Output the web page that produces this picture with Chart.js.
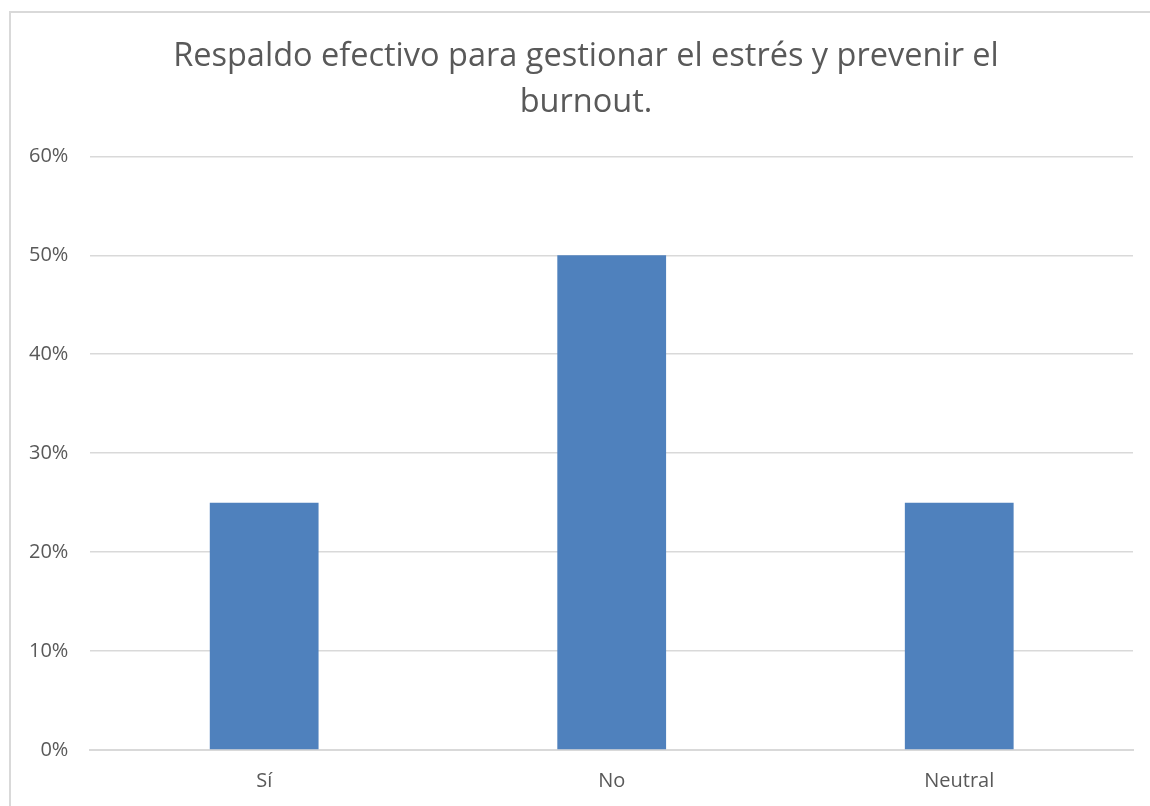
<!DOCTYPE html>
<html>
<head>
<meta charset="utf-8">
<script src="https://cdn.jsdelivr.net/npm/chart.js@4"></script>
<style>
  html, body { margin: 0; padding: 0; background: #fff; overflow: hidden; }
  #frame { position: absolute; left: 9px; top: 11px; width: 1200px; height: 850px; border: 2px solid #d9d9d9; box-sizing: border-box; }
  #wrap { position: absolute; left: 0; top: 0; width: 1150px; height: 806px; }
</style>
</head>
<body>
<div id="frame"></div>
<div id="wrap"><canvas id="myChart"></canvas></div>
<script>
const categories = ['Sí', 'No', 'Neutral'];
const values = [25, 50, 25];
const yTicks = [0, 10, 20, 30, 40, 50, 60];

const textColor = '#595959';
const gridColor = '#d9d9d9';
const fontFamily = '"Open Sans", Lato, sans-serif';

const data = {
  labels: categories,
  datasets: [
    {
      label: 'Respaldo',
      data: values,
      backgroundColor: '#4f81bd',
      borderWidth: 0,
      categoryPercentage: 0.313,
      barPercentage: 1
    }
  ]
};

// the title in the original sits a bit right of the plot centre
const shiftTitle = {
  id: 'shiftTitle',
  afterLayout: chart => {
    const t = chart.titleBlock;
    if (t) {
      t.left += 16;
      t.right += 16;
    }
  }
};

const config = {
  type: 'bar',
  data: data,
  plugins: [shiftTitle],
  options: {
    responsive: true,
    maintainAspectRatio: false,
    animation: false,
    layout: {
      padding: { left: 7, right: 17, top: 34, bottom: 2 }
    },
    plugins: {
      legend: { display: false },
      tooltip: { enabled: false },
      title: {
        display: true,
        text: ['Respaldo efectivo para gestionar el estrés y prevenir el', 'burnout.'],
        color: textColor,
        font: { family: fontFamily, size: 32.5, weight: 'normal', lineHeight: 1.42 },
        padding: { top: 0, bottom: 30 }
      }
    },
    scales: {
      x: {
        grid: { display: false },
        border: { color: gridColor, width: 2 },
        ticks: {
          color: textColor,
          font: { family: fontFamily, size: 20 },
          padding: 11
        }
      },
      y: {
        min: 0,
        max: 60,
        afterBuildTicks: axis => {
          axis.ticks = yTicks.map(v => ({ value: v }));
        },
        grid: { color: gridColor, lineWidth: 1.5, drawTicks: false },
        border: { display: false },
        ticks: {
          color: textColor,
          font: { family: fontFamily, size: 20 },
          padding: 22,
          callback: v => v + '%'
        }
      }
    }
  }
};

const myChart = new Chart(document.getElementById('myChart'), config);
</script>
</body>
</html>
